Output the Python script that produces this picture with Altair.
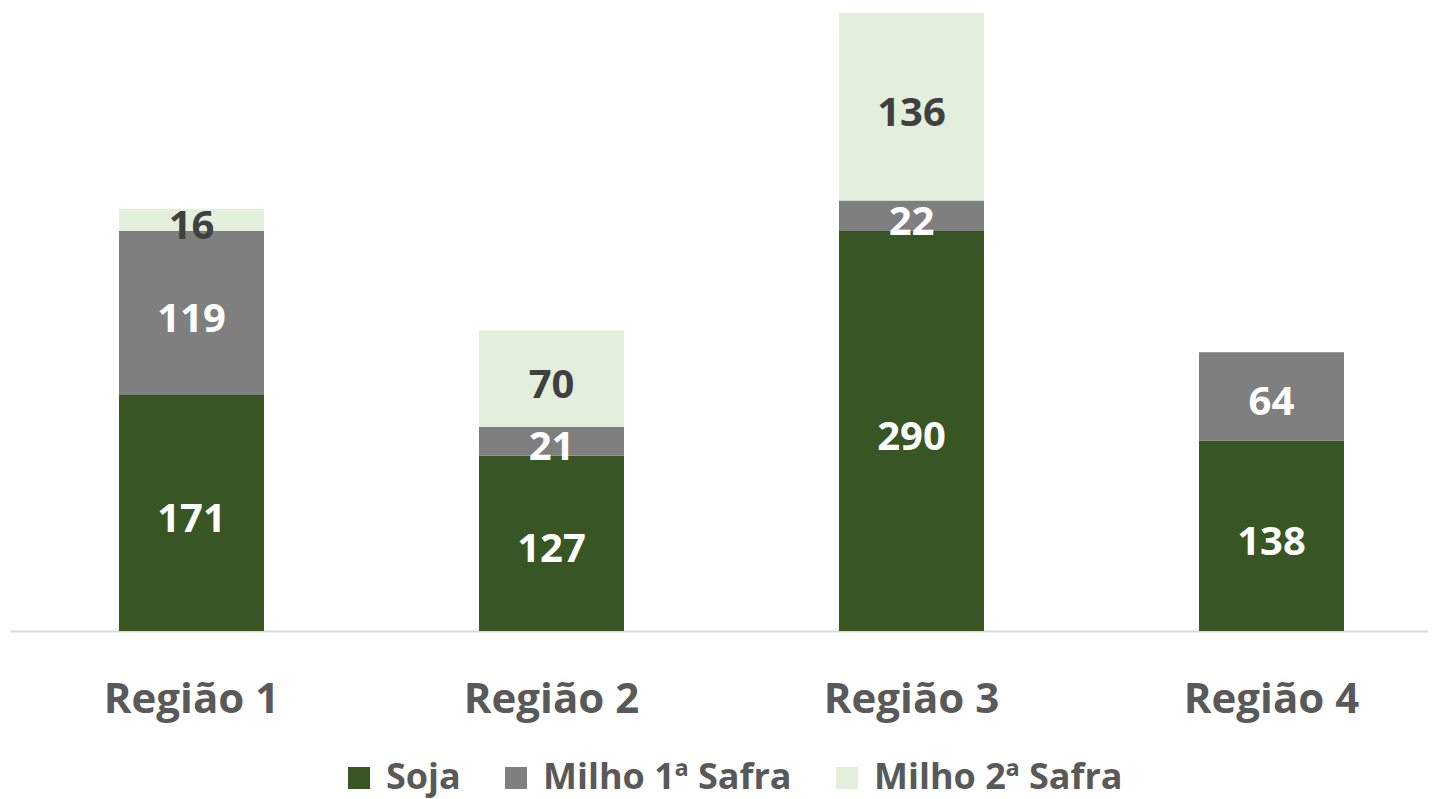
import altair as alt
import pandas as pd

regioes = ["Região 1", "Região 2", "Região 3", "Região 4"]
series = ["Soja", "Milho 1ª Safra", "Milho 2ª Safra"]
soja = [171, 127, 290, 138]
milho1 = [119, 21, 22, 64]
milho2 = [16, 70, 136, 0]

colors = ["#375623", "#7F7F7F", "#E2EFDA"]

rows = []
for i, r in enumerate(regioes):
    for k, (s, vals) in enumerate(zip(series, [soja, milho1, milho2])):
        if vals[i] > 0:
            rows.append({"regiao": r, "serie": s, "ordem": k, "valor": vals[i]})
df = pd.DataFrame(rows)

FONT = "Open Sans"

x_enc = alt.X(
    "regiao:N",
    sort=regioes,
    scale=alt.Scale(paddingInner=0.59722, paddingOuter=0.26806, align=0.56477),
    axis=alt.Axis(
        title=None,
        ticks=False,
        labelAngle=0,
        labelFont=FONT,
        labelFontSize=42,
        labelFontWeight="bold",
        labelColor="#595959",
        labelBaseline="alphabetic",
        labelPadding=81,
        domainColor="#D9D9D9",
        domainWidth=2,
        grid=False,
    ),
)
y_scale = alt.Scale(domain=[0, 451.6], nice=False, zero=True)

base = alt.Chart(df).transform_stack(
    stack="valor", groupby=["regiao"], as_=["v0", "v1"], sort=[alt.SortField("ordem")]
).transform_calculate(mid="(datum.v0 + datum.v1) / 2")

bars = base.mark_bar().encode(
    x=x_enc,
    y=alt.Y("v0:Q", scale=y_scale, axis=None),
    y2="v1:Q",
    color=alt.Color(
        "serie:N",
        scale=alt.Scale(domain=series, range=colors),
        legend=alt.Legend(
            title=None,
            orient="none",
            direction="horizontal",
            legendX=331,
            legendY=752,
            symbolType="square",
            symbolSize=484,
            symbolStrokeWidth=0,
            symbolOpacity=1,
            labelFont=FONT,
            labelFontSize=36,
            labelFontWeight="bold",
            labelColor="#595959",
            labelOffset=9,
            columnPadding=37,
            padding=0,
            labelLimit=500,
        ),
    ),
)

labels = base.mark_text(font=FONT, fontSize=40, fontWeight="bold", dy=7).encode(
    x=alt.X("regiao:N", sort=regioes),
    y=alt.Y("mid:Q", scale=y_scale),
    text=alt.Text("valor:Q"),
    color=alt.condition(
        alt.datum.serie == "Milho 2ª Safra", alt.value("#404040"), alt.value("#FFFFFF")
    ),
)

chart = (
    alt.layer(bars, labels)
    .properties(
        width=1418,
        height=623,
        autosize=alt.AutoSizeParams(type="none"),
        padding={"left": 2, "top": 0, "right": 0, "bottom": 168},
    )
    .configure_view(stroke=None)
)

chart.save("out.html", embed_options={"renderer": "svg", "actions": False})
